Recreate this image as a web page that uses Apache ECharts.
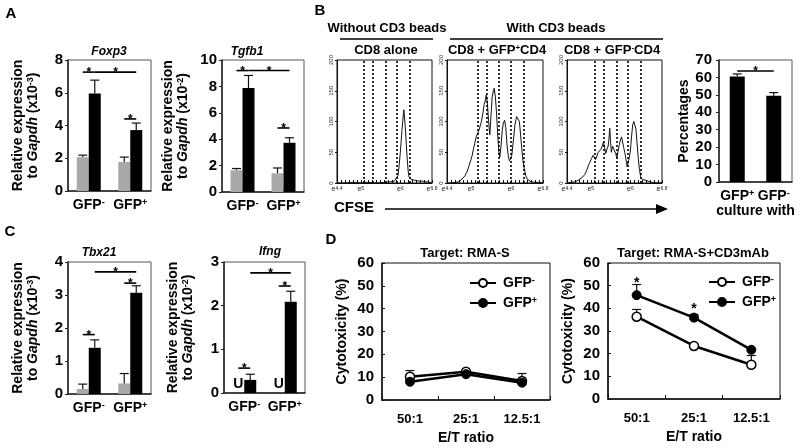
<!DOCTYPE html>
<html>
<head>
<meta charset="utf-8">
<script src="https://cdn.jsdelivr.net/npm/echarts@6/dist/echarts.min.js"></script>
<style>
  html, body { margin: 0; background: #fff; }
  #chart { width: 800px; height: 448px; }
</style>
</head>
<body>
<div id="chart"></div>
<script>
// ---- data ----
const geneCats = ['GFP-', 'GFP+'];
// A
const foxp3Ctrl = [2.07, 1.77], foxp3CtrlErr = [0.12, 0.3];
const foxp3Treat = [5.95, 3.72], foxp3TreatErr = [0.82, 0.43];
const tgfb1Ctrl = [1.65, 1.42], tgfb1CtrlErr = [0.13, 0.4];
const tgfb1Treat = [7.88, 3.73], tgfb1TreatErr = [0.95, 0.38];
// C
const tbx21Ctrl = [0.15, 0.32], tbx21CtrlErr = [0.15, 0.3];
const tbx21Treat = [1.4, 3.07], tbx21TreatErr = [0.24, 0.21];
const ifngCtrl = [0, 0], ifngCtrlErr = [0, 0]; // U = undetected
const ifngTreat = [0.3, 2.09], ifngTreatErr = [0.13, 0.24];
// significance: [fromCat, fromBar(-1 grey / 1 black), toCat, toBar, value]
const sigFoxp3 = [[0, -1, 0, 1, 7.26], [0, 1, 1, 1, 7.26], [1, -1, 1, 1, 4.4]];
const sigTgfb1 = [[0, -1, 0, 1, 9.2], [0, 1, 1, 1, 9.2], [1, -1, 1, 1, 4.85]];
const sigTbx21 = [[0, -1, 0, 1, 1.8], [1, -1, 1, 1, 3.36], [0, 1, 1, 1, 3.7]];
const sigIfng = [[0, -1, 0, 1, 0.57], [1, -1, 1, 1, 2.45], [0, 1, 1, 1, 2.75]];
// B percentages
const pctCats = ['GFP+', 'GFP-'];
const pctVals = [60.5, 49.5], pctErr = [1.5, 1.8];
const sigPct = [[0, 0, 1, 0, 63.7]];
// B histograms: [CFSE exponent, count]
const hist1 = [[4.4,0],[4.6,0],[4.8,1],[5.0,0],[5.2,1],[5.4,0],[5.6,1],[5.75,2],[5.85,3],[5.9,4],[5.94,12],[5.97,29],[6.0,50],[6.02,67],[6.04,85],[6.06,99],[6.08,115],[6.09,119],[6.1,112],[6.12,95],[6.14,75],[6.16,52],[6.18,34],[6.2,18],[6.22,10],[6.24,8],[6.27,6],[6.3,8],[6.33,5],[6.36,7],[6.4,4],[6.44,6],[6.48,3],[6.52,5],[6.56,3],[6.6,4],[6.65,2],[6.7,3],[6.75,1],[6.8,0]];
const hist2 = [[4.4,0],[4.5,0],[4.6,1],[4.65,2],[4.7,2],[4.75,4],[4.8,8],[4.85,12],[4.9,18],[4.95,28],[5.0,38],[5.03,45],[5.07,58],[5.1,66],[5.13,75],[5.16,80],[5.2,86],[5.23,84],[5.26,100],[5.3,115],[5.33,128],[5.36,135],[5.38,143],[5.41,130],[5.44,100],[5.47,78],[5.5,110],[5.53,140],[5.56,150],[5.58,154],[5.61,140],[5.64,112],[5.67,75],[5.7,48],[5.72,42],[5.75,60],[5.78,85],[5.81,98],[5.84,102],[5.87,90],[5.9,62],[5.93,45],[5.96,36],[5.99,34],[6.02,45],[6.06,70],[6.1,95],[6.14,108],[6.18,110],[6.21,100],[6.24,78],[6.27,55],[6.3,35],[6.33,24],[6.37,12],[6.41,6],[6.45,3],[6.5,2],[6.6,1],[6.7,1],[6.8,0]];
const hist3 = [[4.4,0],[4.5,1],[4.55,0],[4.6,2],[4.65,3],[4.7,5],[4.75,8],[4.8,10],[4.85,14],[4.9,21],[4.95,30],[4.98,34],[5.02,40],[5.06,45],[5.09,42],[5.12,38],[5.15,40],[5.19,50],[5.23,48],[5.26,55],[5.29,60],[5.32,66],[5.35,58],[5.38,48],[5.41,55],[5.44,60],[5.46,72],[5.48,89],[5.5,68],[5.52,50],[5.55,60],[5.58,57],[5.6,58],[5.63,48],[5.66,40],[5.69,52],[5.72,62],[5.75,70],[5.78,75],[5.8,72],[5.83,58],[5.86,50],[5.89,38],[5.92,26],[5.94,25],[5.97,40],[6.0,52],[6.03,75],[6.06,95],[6.09,100],[6.11,103],[6.14,88],[6.17,65],[6.2,40],[6.23,22],[6.26,10],[6.3,6],[6.35,4],[6.45,3],[6.55,1],[6.7,0],[6.8,0]];
const hist1Gates = [5.08, 5.31, 5.64, 5.92, 6.24];
const hist2Gates = [5.18, 5.4, 5.7, 6.0, 6.33];
const hist3Gates = [5.11, 5.33, 5.66, 5.94, 6.27];
const histTicks = [4.4, 5, 6, 6.8];
// D
const etCats = ['50:1', '25:1', '12.5:1'];
const rmaNeg = [10.2, 12.4, 8.3], rmaNegErr = [2.7, 0.4, 3.3];
const rmaPos = [8.0, 11.3, 7.6], rmaPosErr = [0, 0, 0];
const cd3Neg = [36.3, 23.4, 15.1], cd3NegErr = [3.2, 0, 4.1];
const cd3Pos = [45.8, 35.9, 21.7], cd3PosErr = [4.7, 1.4, 0];
const cd3Stars = [[0, 53], [1, 41.5]];

// ---- helpers ----
const FONT = '"Liberation Sans", Arial, sans-serif';
const GREY = '#a8a8a8';
const BW = 12;

const grids = [], xAxes = [], yAxes = [], series = [];

const supRich = {
  b: { fontFamily: FONT, fontWeight: 'bold', fontSize: 14, color: '#000' },
  s: { fontFamily: FONT, fontWeight: 'bold', fontSize: 9, color: '#000', verticalAlign: 'top' }
};
function supLabel(v) {
  return '{b|' + v.slice(0, -1) + '}{s|' + v.slice(-1) + '}';
}

function addGrid(box, border) {
  grids.push(Object.assign({
    show: true, borderColor: border || '#444', borderWidth: 1,
    outerBoundsMode: 'none', containLabel: false
  }, box));
  return grids.length - 1;
}

function errSeries(g, means, errs, shift) {
  return {
    type: 'custom', xAxisIndex: g, yAxisIndex: g, silent: true, z: 3,
    encode: { x: 0, y: [1, 2] },
    data: means.map((m, i) => [i, m, m + errs[i]]),
    renderItem: function (params, api) {
      if (api.value(2) <= api.value(1)) return { type: 'group', children: [] };
      const base = api.coord([api.value(0), api.value(1)]);
      const top = api.coord([api.value(0), api.value(2)]);
      const x = base[0] + shift;
      const st = { stroke: '#111', lineWidth: 1.2 };
      return {
        type: 'group', children: [
          { type: 'line', shape: { x1: x, y1: base[1], x2: x, y2: top[1] }, style: st },
          { type: 'line', shape: { x1: x - 4.5, y1: top[1], x2: x + 4.5, y2: top[1] }, style: st }
        ]
      };
    }
  };
}

function sigSeries(g, sigs, half) {
  return {
    type: 'custom', xAxisIndex: g, yAxisIndex: g, silent: true, z: 6,
    encode: { x: [0, 2], y: 4 },
    data: sigs,
    renderItem: function (params, api) {
      const a = api.coord([api.value(0), api.value(4)]);
      const b = api.coord([api.value(2), api.value(4)]);
      const x1 = a[0] + api.value(1) * half, x2 = b[0] + api.value(3) * half;
      return {
        type: 'group', children: [
          { type: 'line', shape: { x1: x1, y1: a[1], x2: x2, y2: a[1] }, style: { stroke: '#000', lineWidth: 1.6 } },
          { type: 'text', style: { text: '*', x: (x1 + x2) / 2, y: a[1] + 7, align: 'center', verticalAlign: 'bottom',
            fontFamily: FONT, fontWeight: 'bold', fontSize: 12, fill: '#000' } }
        ]
      };
    }
  };
}

function nameStyle(size) {
  return {
    fontFamily: FONT, fontWeight: 'bold', fontSize: size, color: '#000', lineHeight: size + 1,
    rich: {
      i: { fontFamily: FONT, fontWeight: 'bold', fontStyle: 'italic', fontSize: size, color: '#000' },
      s: { fontFamily: FONT, fontWeight: 'bold', fontSize: 9, color: '#000', verticalAlign: 'top' }
    }
  };
}

function catAxis(g, cats) {
  return {
    gridIndex: g, type: 'category', data: cats,
    axisLine: { lineStyle: { color: '#222', width: 1.5 } }, axisTick: { show: false },
    axisLabel: { interval: 0, formatter: supLabel, rich: supRich, margin: 7, hideOverlap: false }
  };
}

function barPanel(box, yMax, step, ctrl, ctrlErr, treat, treatErr, sigs, exp, nameGap, undetected) {
  const g = addGrid(box, '#555');
  xAxes.push(catAxis(g, geneCats));
  yAxes.push({
    gridIndex: g, type: 'value', min: 0, max: yMax, interval: step,
    splitLine: { show: false },
    axisLine: { show: true, lineStyle: { color: '#222', width: 1.5 } },
    axisTick: { show: true, length: 3, lineStyle: { color: '#222' } },
    axisLabel: { fontFamily: FONT, fontWeight: 'bold', fontSize: 15, color: '#000', margin: 5 },
    name: 'Relative expression\nto {i|Gapdh} (x10{s|' + exp + '})',
    nameLocation: 'middle', nameRotate: 90, nameGap: nameGap, nameMoveOverlap: false,
    nameTextStyle: nameStyle(14)
  });
  series.push({
    type: 'bar', xAxisIndex: g, yAxisIndex: g, data: ctrl, barWidth: BW, barGap: '0%',
    itemStyle: { color: GREY },
    label: undetected ? { show: true, position: 'top', distance: 2, formatter: 'U',
      fontFamily: FONT, fontWeight: 'bold', fontSize: 14, color: '#000' } : { show: false }
  });
  series.push({
    type: 'bar', xAxisIndex: g, yAxisIndex: g, data: treat, barWidth: BW, barGap: '0%',
    itemStyle: { color: '#000' }
  });
  series.push(errSeries(g, ctrl, ctrlErr, -BW / 2));
  series.push(errSeries(g, treat, treatErr, BW / 2));
  series.push(sigSeries(g, sigs, BW / 2));
}

function histPanel(box, data, gates) {
  const g = addGrid(box, '#111');
  xAxes.push({
    gridIndex: g, type: 'value', min: 4.4, max: 6.8, interval: 0.1,
    splitLine: { show: false },
    axisLine: { lineStyle: { color: '#111', width: 1 } },
    axisTick: { show: true, inside: true, length: 3, lineStyle: { color: '#111' } },
    axisLabel: {
      margin: 3, showMinLabel: true, showMaxLabel: true, hideOverlap: false,
      formatter: function (v) {
        const t = histTicks.find(k => Math.abs(k - v) < 1e-6);
        return t === undefined ? '' : '{b|e}{s|' + t + '}';
      },
      rich: {
        b: { fontFamily: FONT, fontSize: 7, color: '#222' },
        s: { fontFamily: FONT, fontSize: 5, color: '#222', verticalAlign: 'top' }
      }
    }
  });
  yAxes.push({
    gridIndex: g, type: 'value', min: 0, max: 200, interval: 50,
    splitLine: { show: false },
    axisLine: { show: true, lineStyle: { color: '#111', width: 1 } },
    axisTick: { show: true, length: 2, lineStyle: { color: '#111' } },
    axisLabel: { rotate: 90, fontFamily: FONT, fontSize: 6, color: '#333', margin: 3 }
  });
  series.push({
    type: 'line', xAxisIndex: g, yAxisIndex: g, data: data, showSymbol: false,
    lineStyle: { color: '#111', width: 1 },
    markLine: {
      silent: true, symbol: ['none', 'none'], label: { show: false },
      lineStyle: { color: '#000', type: [2, 2], width: 1.6 },
      data: gates.map(v => ({ xAxis: v }))
    }
  });
}

function cytoPanel(box, neg, negErr, pos, posErr, stars) {
  const g = addGrid(box, '#111');
  xAxes.push({
    gridIndex: g, type: 'category', data: etCats, boundaryGap: true,
    axisLine: { lineStyle: { color: '#111', width: 1.5 } },
    axisTick: { show: true, inside: true, length: 4, lineStyle: { color: '#111' } },
    axisLabel: { interval: 0, fontFamily: FONT, fontWeight: 'bold', fontSize: 13, color: '#000', margin: 13 },
    name: 'E/T ratio', nameLocation: 'middle', nameGap: 31, nameMoveOverlap: false,
    nameTextStyle: { fontFamily: FONT, fontWeight: 'bold', fontSize: 14, color: '#000' }
  });
  yAxes.push({
    gridIndex: g, type: 'value', min: 0, max: 60, interval: 10,
    splitLine: { show: false },
    axisLine: { show: true, lineStyle: { color: '#111', width: 1.5 } },
    axisTick: { show: true, inside: true, length: 3, lineStyle: { color: '#111' } },
    axisLabel: { fontFamily: FONT, fontWeight: 'bold', fontSize: 15, color: '#000', margin: 8 },
    name: 'Cytotoxicity (%)', nameLocation: 'middle', nameRotate: 90, nameGap: 33, nameMoveOverlap: false,
    nameTextStyle: { fontFamily: FONT, fontWeight: 'bold', fontSize: 14, color: '#000' }
  });
  series.push(errSeries(g, neg, negErr, 0));
  series.push(errSeries(g, pos, posErr, 0));
  series.push({
    name: 'GFP-', type: 'line', xAxisIndex: g, yAxisIndex: g, data: neg, z: 4,
    symbol: 'circle', symbolSize: 9,
    lineStyle: { color: '#000', width: 2.5 },
    itemStyle: { color: '#fff', borderColor: '#000', borderWidth: 1.5 }
  });
  series.push({
    name: 'GFP+', type: 'line', xAxisIndex: g, yAxisIndex: g, data: pos, z: 5,
    symbol: 'circle', symbolSize: 9,
    lineStyle: { color: '#000', width: 2.5 },
    itemStyle: { color: '#000', borderColor: '#000', borderWidth: 1 }
  });
  if (stars) {
    series.push({
      type: 'custom', xAxisIndex: g, yAxisIndex: g, silent: true, z: 6,
      encode: { x: 0, y: 1 }, data: stars,
      renderItem: function (params, api) {
        const p = api.coord([api.value(0), api.value(1)]);
        return { type: 'text', style: { text: '*', x: p[0], y: p[1] + 4, align: 'center', verticalAlign: 'middle',
          fontFamily: FONT, fontWeight: 'bold', fontSize: 14, fill: '#000' } };
      }
    });
  }
}

// ---- panels ----
barPanel({ left: 68, top: 60, width: 83, height: 131 }, 8, 2,
  foxp3Ctrl, foxp3CtrlErr, foxp3Treat, foxp3TreatErr, sigFoxp3, '-3', 27);
barPanel({ left: 222, top: 60, width: 82, height: 132 }, 10, 2,
  tgfb1Ctrl, tgfb1CtrlErr, tgfb1Treat, tgfb1TreatErr, sigTgfb1, '-2', 31);
barPanel({ left: 68, top: 262, width: 83, height: 132 }, 4, 1,
  tbx21Ctrl, tbx21CtrlErr, tbx21Treat, tbx21TreatErr, sigTbx21, '-3', 27);
barPanel({ left: 224, top: 262, width: 81, height: 131 }, 3, 1,
  ifngCtrl, ifngCtrlErr, ifngTreat, ifngTreatErr, sigIfng, '-2', 28, true);

histPanel({ left: 337, top: 60, width: 95, height: 123 }, hist1, hist1Gates);
histPanel({ left: 447, top: 60, width: 96, height: 123 }, hist2, hist2Gates);
histPanel({ left: 567, top: 60, width: 95, height: 123 }, hist3, hist3Gates);

// percentages
(function () {
  const g = addGrid({ left: 719, top: 60, width: 73, height: 122 }, '#555');
  xAxes.push(Object.assign(catAxis(g, pctCats), {
    name: 'culture with', nameLocation: 'middle', nameGap: 22, nameMoveOverlap: false,
    nameTextStyle: { fontFamily: FONT, fontWeight: 'bold', fontSize: 14, color: '#000' }
  }));
  yAxes.push({
    gridIndex: g, type: 'value', min: 0, max: 70, interval: 10,
    splitLine: { show: false },
    axisLine: { show: true, lineStyle: { color: '#222', width: 1.5 } },
    axisTick: { show: true, length: 3 },
    axisLabel: { fontFamily: FONT, fontWeight: 'bold', fontSize: 15, color: '#000', margin: 7 },
    name: 'Percentages', nameLocation: 'middle', nameRotate: 90, nameGap: 28, nameMoveOverlap: false,
    nameTextStyle: { fontFamily: FONT, fontWeight: 'bold', fontSize: 14, color: '#000' }
  });
  series.push({ type: 'bar', xAxisIndex: g, yAxisIndex: g, data: pctVals, barWidth: 15, itemStyle: { color: '#000' } });
  series.push(errSeries(g, pctVals, pctErr, 0));
  series.push(sigSeries(g, sigPct, 0));
})();

cytoPanel({ left: 382, top: 263, width: 168, height: 137 }, rmaNeg, rmaNegErr, rmaPos, rmaPosErr, null);
cytoPanel({ left: 608, top: 263, width: 172, height: 136 }, cd3Neg, cd3NegErr, cd3Pos, cd3PosErr, cd3Stars);

// ---- text decorations ----
function txt(text, x, y, size, extra) {
  return {
    type: 'text', silent: true,
    style: Object.assign({
      text: text, x: x, y: y, fontFamily: FONT, fontWeight: 'bold', fontSize: size, fill: '#000',
      align: 'center', verticalAlign: 'middle', textAlign: 'center', textVerticalAlign: 'middle'
    }, extra || {})
  };
}
const hdrRich = {
  s: { fontFamily: FONT, fontWeight: 'bold', fontSize: 8, fill: '#000', verticalAlign: 'top' }
};
const italic = { fontStyle: 'italic' };
const graphics = [
  txt('A', 11, 14, 15), txt('B', 320, 11, 15), txt('C', 10, 232, 15), txt('D', 331, 240, 15),
  txt('Foxp3', 109, 52, 12, italic), txt('Tgfb1', 247, 52, 12, italic),
  txt('Tbx21', 99, 253, 12, italic), txt('Ifng', 270, 252, 12, italic),
  txt('Target: RMA-S', 465, 253, 13), txt('Target: RMA-S+CD3mAb', 693, 253, 13),
  txt('Without CD3 beads', 387, 28, 13), txt('With CD3 beads', 556, 28, 13),
  txt('CD8 alone', 386, 50, 13),
  txt('CD8 + GFP{s|+}CD4', 497, 50, 13, { rich: hdrRich }),
  txt('CD8 + GFP{s|-}CD4', 612, 50, 13, { rich: hdrRich }),
  txt('CFSE', 354, 208, 15),
  { type: 'line', silent: true, shape: { x1: 340, y1: 39, x2: 433, y2: 39 }, style: { stroke: '#000', lineWidth: 1.3 } },
  { type: 'line', silent: true, shape: { x1: 450, y1: 39, x2: 663, y2: 39 }, style: { stroke: '#000', lineWidth: 1.3 } },
  { type: 'line', silent: true, shape: { x1: 385, y1: 209, x2: 660, y2: 209 }, style: { stroke: '#000', lineWidth: 1.5 } },
  { type: 'polygon', silent: true, shape: { points: [[656, 204], [668, 209], [656, 214]] }, style: { fill: '#000' } }
];

const legendBase = {
  data: ['GFP-', 'GFP+'], orient: 'vertical', itemWidth: 26, itemHeight: 10, itemGap: 6,
  formatter: supLabel,
  textStyle: { rich: supRich, padding: [0, 0, 0, 2] },
  selectedMode: false
};

const chart = echarts.init(document.getElementById('chart'));
chart.setOption({
  animation: false,
  backgroundColor: '#fff',
  grid: grids,
  xAxis: xAxes,
  yAxis: yAxes,
  legend: [
    Object.assign({ left: 464, top: 271 }, legendBase),
    Object.assign({ left: 703, top: 270 }, legendBase)
  ],
  graphic: graphics,
  series: series
});
</script>
</body>
</html>
